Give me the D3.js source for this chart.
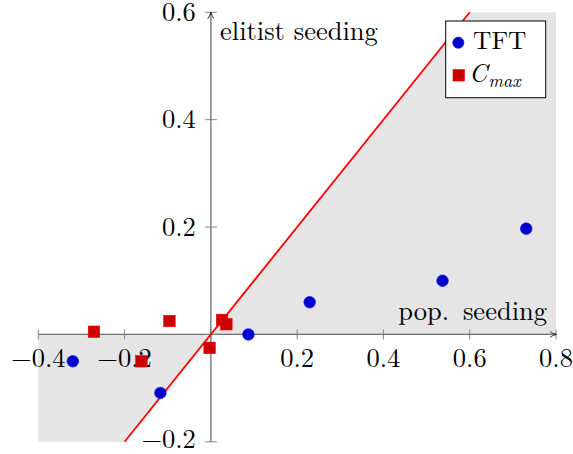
<!DOCTYPE html>
<html>
<head>
<meta charset="utf-8">
<script src="https://cdn.jsdelivr.net/npm/d3@7"></script>
<style>
  html, body { margin: 0; padding: 0; background: #fff; }
  svg { display: block; }
</style>
</head>
<body>
<svg id="chart" width="573" height="454"></svg>
<script>
// Seeding comparison: TFT and C_max improvements
const tftX  = [-0.320, -0.117, 0.087, 0.229, 0.537, 0.731];
const tftY  = [-0.050, -0.109, 0.000, 0.060, 0.100, 0.197];
const cmaxX = [-0.271, -0.096, -0.161, -0.003, 0.026, 0.036];
const cmaxY = [0.005, 0.025, -0.050, -0.025, 0.027, 0.019];

const xTicks = [-0.4, -0.2, 0.2, 0.4, 0.6, 0.8];
const yTicks = [-0.2, 0.2, 0.4, 0.6];
const xDomain = [-0.4, 0.8];
const yDomain = [-0.2, 0.6];

// shaded area between y = 0 and the diagonal y = x
const shadeLeft  = [[-0.4, 0], [0, 0], [-0.2, -0.2], [-0.4, -0.2]];
const shadeRight = [[0, 0], [0.6, 0.6], [0.8, 0.6], [0.8, 0]];
const diagonal   = [[-0.2, -0.2], [0.6, 0.6]];

const FONT = "'Latin Modern Roman', 'Liberation Serif', serif";
const FS = 26.5;

const svg = d3.select("#chart");
const x = d3.scaleLinear().domain(xDomain).range([38.3, 556]);
const y = d3.scaleLinear().domain(yDomain).range([441.8, 12.3]);

const fmt = v => (v < 0 ? "\u2212" : "") + Math.abs(v).toFixed(1);
const label = (sel, size = FS) => sel.style("font-family", FONT).style("font-size", size + "px").attr("fill", "#000");

const poly = d3.line().x(d => x(d[0])).y(d => y(d[1]));
svg.append("path").attr("d", poly(shadeLeft) + "Z").attr("fill", "#e5e5e5");
svg.append("path").attr("d", poly(shadeRight) + "Z").attr("fill", "#e5e5e5");

// arrow marker for the axes
const defs = svg.append("defs");
defs.append("marker")
  .attr("id", "arrow").attr("viewBox", "0 -5 10 10")
  .attr("refX", 9).attr("refY", 0)
  .attr("markerWidth", 7).attr("markerHeight", 7)
  .attr("markerUnits", "userSpaceOnUse")
  .attr("orient", "auto")
  .append("path").attr("d", "M0,-4.5 Q4,-1 10,0 Q4,1 0,4.5")
  .attr("fill", "none").attr("stroke", "#222").attr("stroke-width", 1.3);

const axisColor = "#6e6e6e";
const tickColor = "#8a8a8a";

// x axis through y = 0
const xAxisG = svg.append("g").attr("transform", `translate(0,${y(0)})`);
xAxisG.selectAll("line.tick").data(xTicks.concat([0])).join("line")
  .attr("class", "tick")
  .attr("x1", d => x(d)).attr("x2", d => x(d))
  .attr("y1", -5).attr("y2", 5)
  .attr("stroke", tickColor).attr("stroke-width", 1);
xAxisG.append("line")
  .attr("x1", x(xDomain[0])).attr("x2", x(xDomain[1]))
  .attr("stroke", axisColor).attr("stroke-width", 1.3)
  .attr("marker-end", "url(#arrow)");

// y axis through x = 0
const yAxisG = svg.append("g").attr("transform", `translate(${x(0)},0)`);
yAxisG.selectAll("line.tick").data(yTicks.concat([0])).join("line")
  .attr("class", "tick")
  .attr("y1", d => y(d)).attr("y2", d => y(d))
  .attr("x1", -6).attr("x2", 6)
  .attr("stroke", tickColor).attr("stroke-width", 1);
yAxisG.append("line")
  .attr("y1", y(yDomain[0])).attr("y2", y(yDomain[1]))
  .attr("stroke", axisColor).attr("stroke-width", 1.3)
  .attr("marker-end", "url(#arrow)");

// tick labels
svg.append("g").selectAll("text").data(xTicks).join("text")
  .attr("x", d => x(d)).attr("y", y(0) + 33)
  .attr("text-anchor", "middle")
  .call(label)
  .text(fmt);
svg.append("g").selectAll("text").data(yTicks).join("text")
  .attr("x", x(0) - 15).attr("y", d => y(d) + (d < 0 ? 6.5 : 8.5))
  .attr("text-anchor", "end")
  .call(label)
  .text(fmt);

// axis labels
svg.append("text").attr("x", 220).attr("y", 40).call(label).text("elitist seeding");
const pop = svg.append("text").attr("x", 547).attr("y", 320).attr("text-anchor", "end").call(label);
pop.append("tspan").text("pop.");
pop.append("tspan").attr("dx", 5).text(" seeding");

// diagonal y = x
svg.append("path").attr("d", poly(diagonal))
  .attr("fill", "none").attr("stroke", "#ff0000").attr("stroke-width", 1.8);

// C_max markers
const sq = 11.5;
svg.append("g").selectAll("rect").data(cmaxX.map((v, i) => [v, cmaxY[i]])).join("rect")
  .attr("x", d => x(d[0]) - sq / 2).attr("y", d => y(d[1]) - sq / 2)
  .attr("width", sq).attr("height", sq)
  .attr("fill", "#cc0000").attr("stroke", "#ff0000").attr("stroke-width", 0.6);

// TFT markers
svg.append("g").selectAll("circle").data(tftX.map((v, i) => [v, tftY[i]])).join("circle")
  .attr("cx", d => x(d[0])).attr("cy", d => y(d[1])).attr("r", 5.8)
  .attr("fill", "#0000cc").attr("stroke", "#0000ff").attr("stroke-width", 0.6);

// legend
const lg = svg.append("g");
lg.append("rect").attr("x", 445.7).attr("y", 21).attr("width", 100).attr("height", 76.7)
  .attr("fill", "#fff").attr("stroke", "#000").attr("stroke-width", 1);
lg.append("circle").attr("cx", 458.3).attr("cy", 42.7).attr("r", 5.6)
  .attr("fill", "#0000cc").attr("stroke", "#0000ff").attr("stroke-width", 0.6);
lg.append("text").attr("x", 473).attr("y", 48.5).call(label, 25.5).text("TFT");
lg.append("rect").attr("x", 453).attr("y", 69.5).attr("width", sq).attr("height", sq)
  .attr("fill", "#cc0000").attr("stroke", "#ff0000").attr("stroke-width", 0.6);
const cm = lg.append("text").attr("x", 469).attr("y", 81.5).call(label, 25.5);
cm.append("tspan").style("font-style", "italic").text("C");
cm.append("tspan").style("font-style", "italic").style("font-size", "18px").attr("dy", 5).attr("dx", 1).text("max");
</script>
</body>
</html>
